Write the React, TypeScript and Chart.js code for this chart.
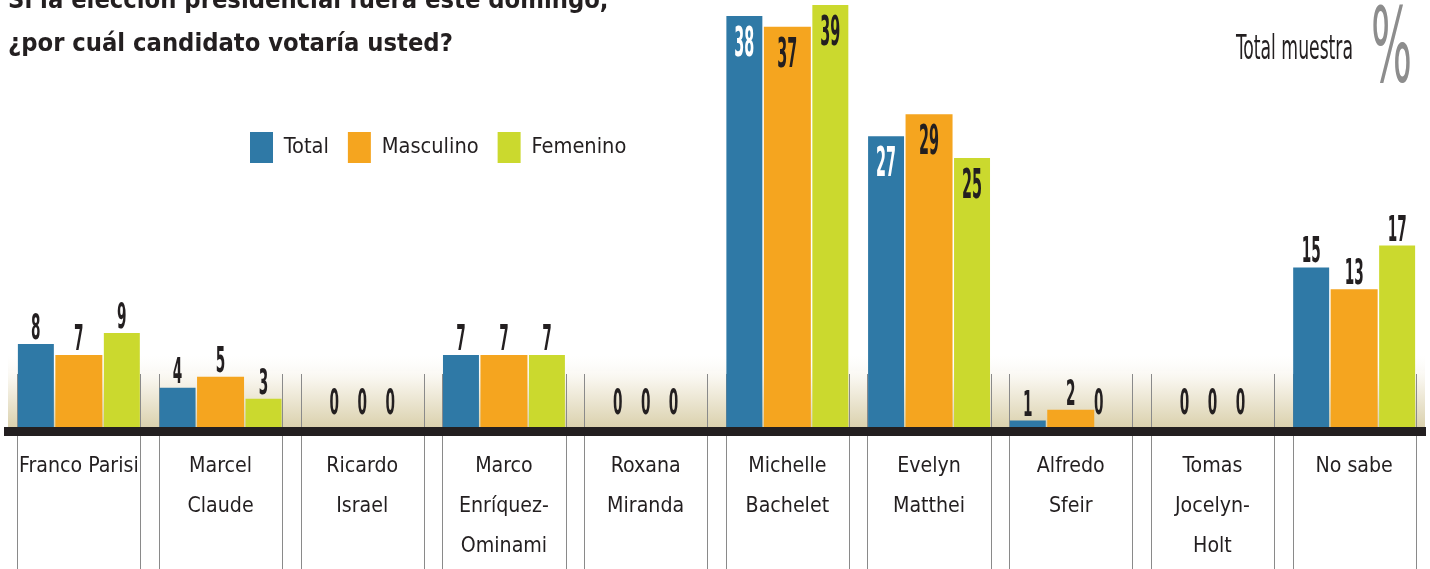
import { useEffect, useRef } from "react";
import { Chart, registerables } from "chart.js";

Chart.register(...registerables);

// ---------- data ----------
const titleLines = [
  "Si la elección presidencial fuera este domingo,",
  "¿por cuál candidato votaría usted?",
];
const sampleLabel = "Total muestra";
const unitLabel = "%";
const categories: string[][] = [
  ["Franco Parisi"],
  ["Marcel", "Claude"],
  ["Ricardo", "Israel"],
  ["Marco", "Enríquez-", "Ominami"],
  ["Roxana", "Miranda"],
  ["Michelle", "Bachelet"],
  ["Evelyn", "Matthei"],
  ["Alfredo", "Sfeir"],
  ["Tomas", "Jocelyn-", "Holt"],
  ["No sabe"],
];
const seriesNames = ["Total", "Masculino", "Femenino"];
const totalValues = [8, 4, 0, 7, 0, 38, 27, 1, 0, 15];
const masculinoValues = [7, 5, 0, 7, 0, 37, 29, 2, 0, 13];
const femeninoValues = [9, 3, 0, 7, 0, 39, 25, 0, 0, 17];
const yMin = 0;
const yMax = 39;

// ---------- styling ----------
const W = 1430;
const H = 569;
const INK = "#231f20";
const COLORS = ["#2f79a6", "#f5a51f", "#cbd92e"];
const SEP = 0.435;
const CHART_TOP = 5;
const CHART_BOTTOM = 431.5;
const LEGEND_PAD = 19;

type FontPick = { family: string; stretch: string };

function pickFont(): FontPick {
  const c = document.createElement("canvas").getContext("2d")!;
  const test = "Masculino Femenino 0123 ¿por cuál candidato?";
  const w = (f: string) => {
    c.font = f;
    return c.measureText(test).width;
  };
  const available = (fam: string) => Math.abs(w(`40px ${fam}, monospace`) - w("40px monospace")) > 0.5;
  if (available("'Liberation Sans Narrow'")) {
    return { family: "'Liberation Sans Narrow', 'Liberation Sans', sans-serif", stretch: "" };
  }
  for (const fam of ["'DejaVu Sans'", "'Open Sans'", "'Noto Sans'", "Roboto", "'Liberation Sans'"]) {
    if (!available(fam)) continue;
    if (w(`normal condensed 40px ${fam}`) < 0.93 * w(`normal normal 40px ${fam}`)) {
      return { family: `${fam}, sans-serif`, stretch: "condensed" };
    }
  }
  if (available("'Roboto Condensed'")) return { family: "'Roboto Condensed', sans-serif", stretch: "" };
  return { family: "'Liberation Sans', Arial, sans-serif", stretch: "" };
}

function weightStr(weight: string, stretch: string) {
  return stretch ? `${weight} ${stretch}` : weight;
}

const isInt = (v: number) => Math.abs(v - Math.round(v)) < 1e-9;

export default function App() {
  const ref = useRef<HTMLCanvasElement>(null);

  useEffect(() => {
    if (!ref.current) return;
    const fp = pickFont();
    const FAMILY = fp.family;
    const mctx = document.createElement("canvas").getContext("2d")!;
    const measure = (text: string, weight: string, size: number) => {
      mctx.font = `${weightStr(weight, fp.stretch)} ${size}px ${FAMILY}`;
      return mctx.measureText(text).width;
    };
    const fitSize = (text: string, weight: string, target: number) =>
      (40 * target) / measure(text, weight, 40);

    const titleSize = Math.min(36, fitSize(titleLines[1], "bold", 445));
    const legendSize = Math.min(30, fitSize("Masculino", "normal", 97));
    const axisSize = Math.min(27, 1.06 * fitSize("Franco Parisi", "normal", 113));

    const headSize = 34;
    const headScale = 117 / measure(sampleLabel, "normal", headSize);
    const pctSize = 104;
    const pctScale = 41 / measure(unitLabel, "normal", pctSize);
    const outSize = 35;
    const outScale = 19 / measure("00", "bold", outSize);
    const inSize = 40;
    const inScale = 20 / measure("00", "bold", inSize);

    const placePlugin = {
      id: "place",
      afterLayout(chart: any) {
        const t = chart.titleBlock;
        if (t) {
          const h = t.height;
          const mid2 = 53 - 0.35 * titleSize;
          const mid1 = mid2 - 43;
          t.left = 8;
          t.right = 1100;
          t.top = mid1 - 21.5;
          t.bottom = t.top + h;
        }
        const lg = chart.legend;
        if (lg) {
          const h = lg.height;
          const w = lg.width;
          lg.left = 250 - LEGEND_PAD;
          lg.right = lg.left + w;
          lg.top = 132 - LEGEND_PAD;
          lg.bottom = lg.top + h;
        }
      },
    };

    const bandPlugin = {
      id: "band",
      beforeDatasetsDraw(chart: any) {
        const { ctx, chartArea } = chart;
        const top = 350;
        const g = ctx.createLinearGradient(0, top, 0, chartArea.bottom);
        g.addColorStop(0, "rgba(255,255,255,0)");
        g.addColorStop(0.45, "#f4f0e4");
        g.addColorStop(1, "#d8cea8");
        ctx.save();
        ctx.fillStyle = g;
        ctx.fillRect(chartArea.left, top, chartArea.right - chartArea.left, chartArea.bottom - top);
        const xs = chart.scales.x;
        ctx.strokeStyle = "#8a8a8a";
        ctx.lineWidth = 1;
        categories.forEach((_, i) => {
          [i - SEP, i + SEP].forEach((v) => {
            const x = Math.round(xs.getPixelForValue(v)) + 0.5;
            ctx.beginPath();
            ctx.moveTo(x, 374);
            ctx.lineTo(x, H);
            ctx.stroke();
          });
        });
        ctx.restore();
      },
    };

    const valueLabelPlugin = {
      id: "valueLabels",
      afterDatasetsDraw(chart: any) {
        const { ctx } = chart;
        const xs = chart.scales.x;
        chart.data.datasets.forEach((ds: any, di: number) => {
          const meta = chart.getDatasetMeta(di);
          meta.data.forEach((bar: any, i: number) => {
            const v = ds.data[i];
            const c = xs.getPixelForValue(i);
            let x = bar.x;
            let y: number;
            let size: number;
            let sx: number;
            let color = INK;
            if (v >= 20) {
              size = inSize;
              sx = inScale;
              y = bar.y + 40;
              if (di === 0) color = "#ffffff";
            } else {
              size = outSize;
              sx = outScale;
              y = Math.min(bar.y, 427) - (v === 0 ? 13 : 5);
              if (v === 0) x = c + (bar.x - c) * 0.65;
            }
            ctx.save();
            ctx.translate(x, y);
            ctx.scale(sx, 1);
            ctx.font = `${weightStr("bold", fp.stretch)} ${size}px ${FAMILY}`;
            ctx.fillStyle = color;
            ctx.textAlign = "center";
            ctx.textBaseline = "alphabetic";
            ctx.fillText(String(v), 0, 0);
            ctx.restore();
          });
        });
      },
    };

    const headerPlugin = {
      id: "header",
      afterDraw(chart: any) {
        const { ctx } = chart;
        ctx.save();
        ctx.translate(1353, 59);
        ctx.scale(headScale, 1);
        ctx.font = `${weightStr("normal", fp.stretch)} ${headSize}px ${FAMILY}`;
        ctx.fillStyle = INK;
        ctx.textAlign = "right";
        ctx.textBaseline = "alphabetic";
        ctx.fillText(sampleLabel, 0, 0);
        ctx.restore();

        ctx.save();
        ctx.translate(1371, 82);
        ctx.scale(pctScale, 1);
        ctx.font = `${weightStr("normal", fp.stretch)} ${pctSize}px ${FAMILY}`;
        ctx.fillStyle = "#8d8d8d";
        ctx.textAlign = "left";
        ctx.textBaseline = "alphabetic";
        ctx.fillText(unitLabel, 0, 0);
        ctx.restore();
      },
    };

    const seriesValues = [totalValues, masculinoValues, femeninoValues];
    const catPct = [0.91, 1.0, 0.91];
    const barPct = [0.837, 0.995, 0.837];

    const options: any = {
      responsive: false,
      animation: false,
      events: [],
      layout: { padding: { top: -136, bottom: 5, left: 8, right: 5 } },
      plugins: {
        title: {
          display: true,
          position: "top",
          align: "start",
          text: titleLines,
          color: INK,
          padding: 0,
          font: { family: FAMILY, size: titleSize, weight: weightStr("bold", fp.stretch), lineHeight: "43px" },
        },
        legend: {
          display: true,
          position: "top",
          align: "start",
          labels: {
            boxWidth: 23,
            boxHeight: 31,
            padding: LEGEND_PAD,
            color: INK,
            font: { family: FAMILY, size: legendSize, weight: weightStr("normal", fp.stretch) },
          },
        },
        tooltip: { enabled: false },
      },
      scales: {
        x: {
          type: "linear",
          position: "bottom",
          min: -0.5,
          max: 9.5,
          offset: false,
          afterBuildTicks: (s: any) => {
            s.ticks = categories.map((_, i) => ({ value: i }));
          },
          grid: {
            offset: false,
            drawOnChartArea: false,
            drawTicks: true,
            tickLength: 15,
            color: "rgba(0,0,0,0)",
            tickColor: "rgba(0,0,0,0)",
          },
          border: { display: true, color: INK, width: 9, z: 1 },
          ticks: {
            autoSkip: false,
            maxRotation: 0,
            minRotation: 0,
            padding: 0,
            color: INK,
            font: { family: FAMILY, size: axisSize, weight: weightStr("normal", fp.stretch), lineHeight: "40px" },
            callback: (v: number) => (isInt(v) ? categories[Math.round(v)] : ""),
          },
        },
        y: { display: false, min: yMin, max: yMax },
      },
    };

    const chart = new Chart(ref.current, {
      type: "bar",
      data: {
        labels: categories.map((_, i) => i),
        datasets: seriesNames.map((name, k) => ({
          label: name,
          data: seriesValues[k],
          backgroundColor: COLORS[k],
          borderWidth: 0,
          categoryPercentage: catPct[k],
          barPercentage: barPct[k],
          xAxisID: "x",
          yAxisID: "y",
        })),
      },
      options,
      plugins: [placePlugin, bandPlugin, valueLabelPlugin, headerPlugin],
    });

    const pad = options.layout.padding;
    for (let k = 0; k < 3; k++) {
      const dt = chart.chartArea.top - CHART_TOP;
      const db = chart.chartArea.bottom - CHART_BOTTOM;
      if (Math.abs(dt) < 0.2 && Math.abs(db) < 0.2) break;
      pad.top -= dt;
      pad.bottom += db;
      chart.update();
    }

    return () => chart.destroy();
  }, []);

  return (
    <div style={{ position: "absolute", left: 0, top: 0, width: W, height: H, background: "#ffffff" }}>
      <canvas ref={ref} width={W} height={H} style={{ display: "block", width: W, height: H }} />
    </div>
  );
}
